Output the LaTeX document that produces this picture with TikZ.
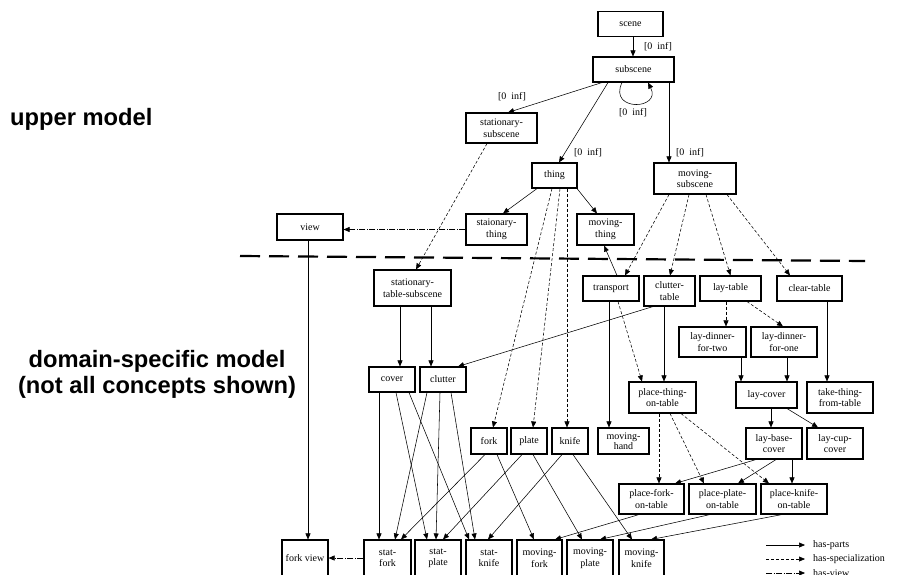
\documentclass[tikz,border=0pt]{standalone}
\usepackage{fontspec}
\setmainfont{Liberation Serif}
\newfontfamily\headfont{Liberation Sans}
\usetikzlibrary{arrows.meta,positioning}
\tikzset{
  hasparts/.style={-{Triangle[length=6pt,width=5pt]},draw=black,line width=.55pt},
  hasspec/.style={hasparts,dash pattern=on 3pt off 2pt},
  hasview/.style={hasparts,dash pattern=on 6pt off 1.5pt on 1pt off 1.5pt},
  box/.style={draw,line width=1.1pt,align=center,inner sep=0pt,
    font=\fontsize{10}{11.5}\selectfont,minimum height=25pt},
  tall/.style={box,minimum height=31pt},
  low/.style={box,minimum height=36pt},
  card/.style={font=\fontsize{10}{11.5}\selectfont,inner sep=0pt},
  modeltitle/.style={font=\headfont\bfseries\fontsize{23.7}{26}\selectfont,align=center,inner sep=0pt},
  separator/.style={draw,line width=2.2pt,dash pattern=on 20pt off 9pt},
}

\begin{document}
\begin{tikzpicture}[x=1pt,y=-1pt]
\useasboundingbox (0,0) rectangle (915,574);
% left titles
\node[modeltitle,anchor=west] (upper) at (10,119) {upper model};
\node[modeltitle] (domain) at (157,374) {domain-specific model\\(not all concepts shown)};
\coordinate (sepL) at (240,256);
\coordinate (sepR) at (865,261);
\draw[separator] (sepL) -- (sepR);
% upper model
\node[box,minimum width=65pt] (scene) at (630.5,24) {scene};
\node[box,minimum width=81pt] (subscene) at (633.5,69.5) {subscene};
\node[tall,minimum width=71pt,minimum height=30pt] (stsub) at (501.5,128) {stationary-\\subscene};
\node[box,minimum width=45pt] (thing) at (554.5,175.5) {thing};
\node[tall,minimum width=82pt] (mvsub) at (695,178.5) {moving-\\subscene};
\node[box,minimum width=66pt,minimum height=26pt] (view) at (310,227) {view};
\node[tall,minimum width=61pt] (stthing) at (496.5,229.5) {staionary-\\thing};
\node[tall,minimum width=57pt] (mvthing) at (605.5,229.5) {moving-\\thing};
% domain-specific model
\node[low,minimum width=77pt] (sttabsub) at (412.5,288) {stationary-\\table-subscene};
\node[box,minimum width=56pt] (transport) at (611,288.5) {transport};
\node[tall,minimum width=51pt,minimum height=30pt] (cltab) at (669.5,291) {clutter-\\table};
\node[box,minimum width=61pt] (laytable) at (730.5,288.5) {lay-table};
\node[box,minimum width=65pt] (cleartable) at (809.5,288.5) {clear-table};
\node[tall,minimum width=67pt,minimum height=30pt] (ldtwo) at (712.5,342) {lay-dinner-\\for-two};
\node[tall,minimum width=66pt,minimum height=30pt] (ldone) at (784,342) {lay-dinner-\\for-one};
\node[box,minimum width=46pt] (cover) at (392,379.5) {cover};
\node[box,minimum width=46pt] (clutter) at (443,379.5) {clutter};
\node[tall,minimum width=67pt] (ptt) at (662.5,397.5) {place-thing-\\on-table};
\node[box,minimum width=61pt,minimum height=26pt] (laycover) at (766.5,395) {lay-cover};
\node[tall,minimum width=66pt] (ttft) at (840,397.5) {take-thing-\\from-table};
\node[box,minimum width=36pt,minimum height=26pt] (fork) at (489,441) {fork};
\node[box,minimum width=36pt,minimum height=26pt] (plate) at (529,441) {plate};
\node[box,minimum width=36pt,minimum height=26pt] (knife) at (570,441) {knife};
\node[box,minimum width=51pt,minimum height=26pt,font=\fontsize{10}{10.5}\selectfont] (mhand) at (623.5,441) {moving-\\hand};
\node[tall,minimum width=56pt] (lbc) at (774,443.5) {lay-base-\\cover};
\node[tall,minimum width=56pt] (lcc) at (835,443.5) {lay-cup-\\cover};
\node[tall,minimum width=65pt,minimum height=30pt] (pf) at (651.5,499) {place-fork-\\on-table};
\node[tall,minimum width=67pt,minimum height=30pt] (pp) at (722.5,499) {place-plate-\\on-table};
\node[tall,minimum width=66pt,minimum height=30pt] (pk) at (794,499) {place-knife-\\on-table};
\node[low,minimum width=46pt] (fview) at (305,558) {fork view};
\node[low,minimum width=47pt] (sf) at (387.5,558) {stat-\\fork};
\node[low,minimum width=46pt] (sp) at (438,558) {stat-\\plate};
\node[low,minimum width=46pt] (sk) at (489,558) {stat-\\knife};
\node[low,minimum width=45pt] (mf) at (539.5,558) {moving-\\fork};
\node[low,minimum width=46pt] (mp) at (590,558) {moving-\\plate};
\node[low,minimum width=45pt] (mk) at (641.5,558) {moving-\\knife};
% cardinalities
\node[card] (cardA) at (658,47) {[0\ \ inf]};
\node[card] (cardB) at (512,97) {[0\ \ inf]};
\node[card] (cardC) at (633,113) {[0\ \ inf]};
\node[card] (cardD) at (588,153) {[0\ \ inf]};
\node[card] (cardE) at (690,153) {[0\ \ inf]};
% connectors of the upper model
\draw[hasparts] ([xshift=2.5pt]scene.south) -- ([xshift=-0.5pt]subscene.north);
\draw[hasparts] ([xshift=-31.5pt]subscene.south) -- ([xshift=6.5pt]stsub.north);
\draw[hasparts] ([xshift=-25.5pt]subscene.south) -- ([xshift=4.5pt]thing.north);
\draw[hasparts] ([xshift=35.5pt]subscene.south) -- ([xshift=-26pt]mvsub.north);
\draw[hasparts] ([xshift=-11.5pt]subscene.south) .. controls (608,112) and (662,110) .. ([xshift=14.5pt]subscene.south);
\draw[hasspec] ([xshift=-14.5pt]stsub.south) -- ([xshift=3.5pt]sttabsub.north);
\draw[hasparts] ([xshift=-17.5pt]thing.south) -- ([xshift=6.5pt]stthing.north);
\draw[hasparts] ([xshift=22.5pt]thing.south) -- ([xshift=-8.5pt]mvthing.north);
\draw[hasview] (stthing.west) -- (stthing.west -| view.east);
\draw[hasspec] ([xshift=-2.5pt]thing.south) -- ([xshift=4pt]fork.north);
\draw[hasspec] ([xshift=5.5pt]thing.south) -- ([xshift=4pt]plate.north);
\draw[hasspec] ([xshift=12.5pt]thing.south) -- ([xshift=-3pt]knife.north);
\draw[hasspec] ([xshift=-26pt]mvsub.south) -- ([xshift=14pt]transport.north);
\draw[hasspec] ([xshift=-6pt]mvsub.south) -- ([xshift=0.5pt]cltab.north);
\draw[hasspec] ([xshift=11pt]mvsub.south) -- (laytable.north);
\draw[hasspec] ([xshift=32pt]mvsub.south) -- ([xshift=-19.5pt]cleartable.north);
% connectors of the domain model
\draw[hasparts] ([xshift=6pt]transport.north) -- ([xshift=-1.5pt]mvthing.south);
\draw[hasspec] ([xshift=7pt]transport.south) -- ([xshift=-20.5pt]ptt.north);
\draw[hasparts] ([xshift=-2pt]transport.south) -- ([xshift=-14.5pt]mhand.north);
\draw[hasparts] ([xshift=-5.5pt]cltab.south) -- ([xshift=1.5pt]ptt.north);
\draw[hasparts] ([xshift=-16.5pt]cltab.south) -- ([xshift=15pt]clutter.north);
\draw[hasspec] ([xshift=-4.5pt]laytable.south) -- ([xshift=13.5pt]ldtwo.north);
\draw[hasspec] ([xshift=16.5pt]laytable.south) -- ([xshift=-1pt]ldone.north);
\draw[hasparts] ([xshift=17.5pt]cleartable.south) -- ([xshift=-13pt]ttft.north);
\draw[hasparts] ([xshift=28.5pt]ldtwo.south) -- ([xshift=-25.5pt]laycover.north);
\draw[hasparts] ([xshift=3pt]ldone.south) -- ([xshift=20.5pt]laycover.north);
\draw[hasparts] ([xshift=4.5pt]laycover.south) -- ([xshift=-3pt]lbc.north);
\draw[hasparts] ([xshift=20.5pt]laycover.south) -- ([xshift=-17pt]lcc.north);
\draw[hasparts] ([xshift=-12.5pt]sttabsub.south) -- ([xshift=8pt]cover.north);
\draw[hasparts] ([xshift=18.5pt]sttabsub.south) -- ([xshift=-12pt]clutter.north);
\draw[hasspec] ([xshift=-3.5pt]ptt.south) -- ([xshift=7.5pt]pf.north);
\draw[hasspec] ([xshift=7.5pt]ptt.south) -- ([xshift=-18.5pt]pp.north);
\draw[hasspec] ([xshift=18.5pt]ptt.south) -- ([xshift=-25pt]pk.north);
\draw[hasparts] ([xshift=-18pt]lbc.south) -- ([xshift=23.5pt]pf.north);
\draw[hasparts] ([xshift=2pt]lbc.south) -- ([xshift=15.5pt]pp.north);
\draw[hasparts] ([xshift=18pt]lbc.south) -- ([xshift=-2pt]pk.north);
\draw[hasparts] ([xshift=-12.5pt]pf.south) -- ([xshift=15.5pt]mf.north);
\draw[hasparts] ([xshift=-12.5pt]pp.south) -- ([xshift=10pt]mp.north);
\draw[hasparts] ([xshift=-12pt]pk.south) -- ([xshift=9.5pt]mk.north);
\draw[hasparts] ([xshift=8pt]fork.south) -- ([xshift=-5.5pt]mf.north);
\draw[hasparts] ([xshift=-4pt]fork.south) -- ([xshift=13.5pt]sf.north);
\draw[hasparts] ([xshift=4pt]plate.south) -- ([xshift=-8pt]mp.north);
\draw[hasparts] ([xshift=-7pt]plate.south) -- ([xshift=5pt]sp.north);
\draw[hasparts] ([xshift=3pt]knife.south) -- ([xshift=-9.5pt]mk.north);
\draw[hasparts] ([xshift=-8pt]knife.south) -- ([xshift=-1pt]sk.north);
\draw[hasparts] ([xshift=-13pt]cover.south) -- ([xshift=-8.5pt]sf.north);
\draw[hasparts] ([xshift=4pt]cover.south) -- ([xshift=-11pt]sp.north);
\draw[hasparts] ([xshift=17pt]cover.south) -- ([xshift=-20pt]sk.north);
\draw[hasparts] ([xshift=-16pt]clutter.south) -- ([xshift=7.5pt]sf.north);
\draw[hasparts] ([xshift=-3pt]clutter.south) -- ([xshift=-2pt]sp.north);
\draw[hasparts] ([xshift=8pt]clutter.south) -- ([xshift=-14pt]sk.north);
\draw[hasparts] ([xshift=-2pt]view.south) -- ([xshift=3pt]fview.north);
\draw[hasview] (sf.west) -- (sf.west -| fview.east);
% legend
\coordinate (lgA) at (766,545); \coordinate (lgAe) at (805,545);
\coordinate (lgB) at (766,559); \coordinate (lgBe) at (805,559);
\coordinate (lgC) at (766,573); \coordinate (lgCe) at (805,573);
\draw[hasparts] (lgA) -- (lgAe);
\draw[hasspec] (lgB) -- (lgBe);
\draw[hasview] (lgC) -- (lgCe);
\node[card,anchor=west] (lgtA) at (813,545) {has-parts};
\node[card,anchor=west] (lgtB) at (813,559) {has-specialization};
\node[card,anchor=west] (lgtC) at (813,573) {has-view};
\end{tikzpicture}
\end{document}
